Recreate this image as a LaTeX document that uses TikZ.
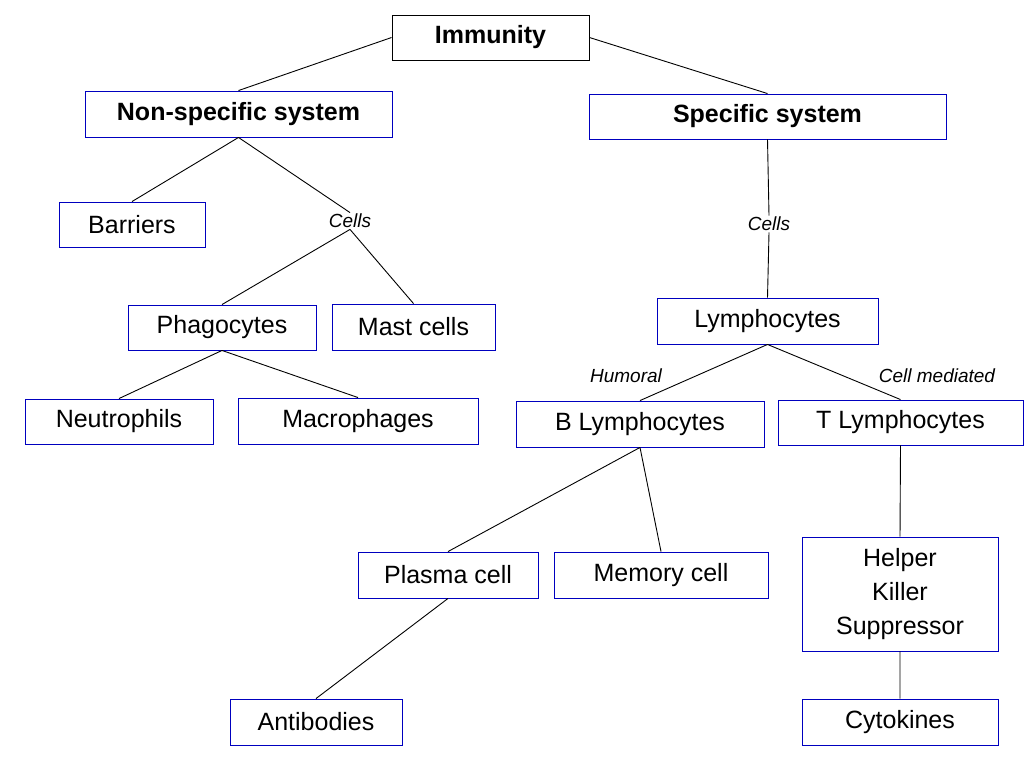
\documentclass[tikz,border=0pt]{standalone}
\usepackage{fontspec}
\setmainfont{Liberation Sans}
\begin{document}
\begin{tikzpicture}[x=1pt,y=-1pt,thick,
          box/.style={draw=blue!75!black,line width=0.9pt,inner sep=0pt,font=\fontsize{25}{30}\selectfont},
          lbl/.style={inner sep=1pt,font=\fontsize{19}{22}\selectfont\itshape},
          every path/.style={line width=0.9pt}]
          \useasboundingbox(0,0)rectangle(1024,768);
          % boxes
          \node[box,draw=black,minimum width=197,minimum height=45,font=\fontsize{25}{30}\selectfont\bfseries](imm)at(490.5,37.5){Immunity};
          \node[box,minimum width=307,minimum height=46,font=\fontsize{25}{30}\selectfont\bfseries](nsp)at(238.5,114){Non-specific system};
          \node[box,minimum width=357,minimum height=45,font=\fontsize{25}{30}\selectfont\bfseries](spe)at(767.5,116.5){Specific system};
          \node[box,minimum width=146,minimum height=45](bar)at(132,224.5){Barriers};
          \node[lbl](cl)at(350,221){Cells};
          \node[lbl](cr)at(769,224){Cells};
          \node[box,minimum width=188,minimum height=45](pha)at(222,327.5){Phagocytes};
          \node[box,minimum width=163,minimum height=46](mas)at(413.5,327){Mast cells};
          \node[box,minimum width=221,minimum height=46](lym)at(767.5,321){Lymphocytes};
          \node[box,minimum width=188,minimum height=45](neu)at(119,421.5){Neutrophils};
          \node[box,minimum width=240,minimum height=46](mac)at(358,421){Macrophages};
          \node[lbl](hum)at(626,376){Humoral};
          \node[lbl](cme)at(937,376){Cell mediated};
          \node[box,minimum width=248,minimum height=46](bly)at(640,424){B Lymphocytes};
          \node[box,minimum width=245,minimum height=45](tly)at(900.5,422.5){T Lymphocytes};
          \node[box,minimum width=180,minimum height=46](pla)at(448,575){Plasma cell};
          \node[box,minimum width=214,minimum height=46](mem)at(661,575){Memory cell};
          \node[box,minimum width=196,minimum height=114,align=center,font=\fontsize{25}{34}\selectfont](hks)at(900,594){Helper\\Killer\\Suppressor};
          \node[box,minimum width=172,minimum height=46](ant)at(316,722){Antibodies};
          \node[box,minimum width=196,minimum height=46](cyt)at(900,722){Cytokines};
          % connectors
          \draw(imm.west)--(nsp.north) (imm.east)--(spe.north);
          \draw(nsp.south)--(bar.north) (nsp.south)--(cl.north);
          \draw(cl.south)--(pha.north) (cl.south)--(mas.north);
          \draw(pha.south)--(neu.north) (pha.south)--(mac.north);
          \draw(spe.south)--(cr.north) (cr.south)--(lym.north);
          \draw(lym.south)--(bly.north) (lym.south)--(tly.north);
          \draw(bly.south)--(pla.north) (bly.south)--(mem.north);
          \draw(tly.south)--(hks.north) (hks.south)--(cyt.north);
          \draw(pla.south)--(ant.north);
        \end{tikzpicture}
\end{document}
